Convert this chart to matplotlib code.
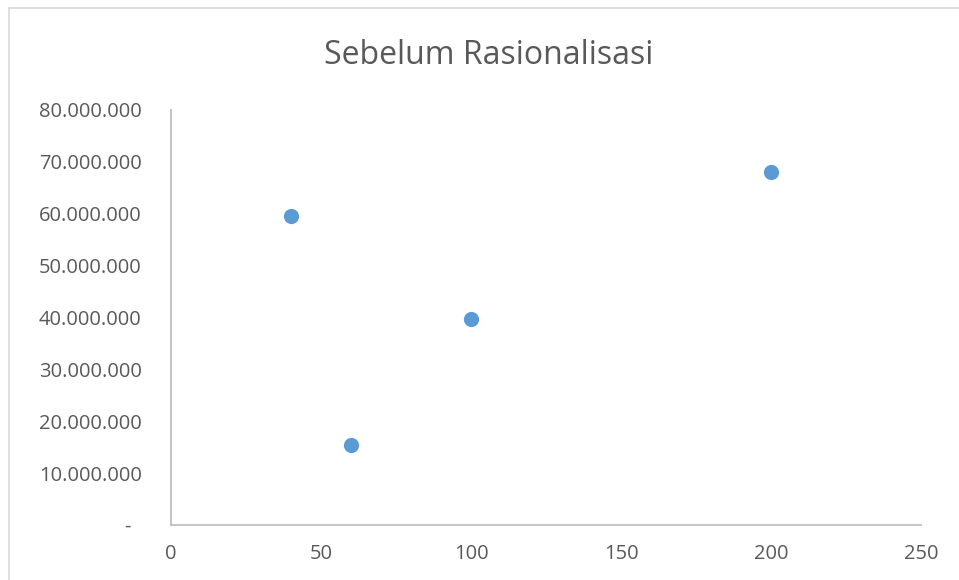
import matplotlib.pyplot as plt
from matplotlib.ticker import FuncFormatter, MultipleLocator
from matplotlib.lines import Line2D

# data
title = "Sebelum Rasionalisasi"
x_vals = [40, 60, 100, 200]
y_vals = [59_600_000, 15_400_000, 39_700_000, 68_000_000]

BLUE = "#5B9BD5"
GREY_TXT = "#595959"
GREY_LINE = "#BFBFBF"

plt.rcParams['font.family'] = ['Open Sans', 'DejaVu Sans']

fig = plt.figure(figsize=(9.59, 5.8), dpi=100)
# chart area border: only top and left edges are inside the picture
top_y = 1 - 8 / 580
left_x = 9 / 959
fig.lines.append(Line2D([left_x, 1], [top_y, top_y], transform=fig.transFigure,
                        color="#D9D9D9", linewidth=1.2))
fig.lines.append(Line2D([left_x, left_x], [0, top_y], transform=fig.transFigure,
                        color="#D9D9D9", linewidth=1.2))

ax = fig.add_axes([171 / 959, 1 - 525 / 580, (921 - 171) / 959, (525 - 110) / 580])
ax.scatter(x_vals, y_vals, s=120, color=BLUE, zorder=3, linewidths=0)

ax.set_xlim(0, 250)
ax.set_ylim(0, 80_000_000)
ax.xaxis.set_major_locator(MultipleLocator(50))
ax.yaxis.set_major_locator(MultipleLocator(10_000_000))


def fmt_y(v, pos):
    if v == 0:
        return "-  "
    return f"{v:,.0f}".replace(",", ".")


ax.yaxis.set_major_formatter(FuncFormatter(fmt_y))

for side in ("top", "right"):
    ax.spines[side].set_visible(False)
for side in ("left", "bottom"):
    ax.spines[side].set_color(GREY_LINE)
    ax.spines[side].set_linewidth(1.3)

ax.tick_params(axis="both", length=0, labelsize=14.5, labelcolor=GREY_TXT)
ax.tick_params(axis="y", pad=21)
ax.tick_params(axis="x", pad=14)

fig.text(489 / 959, 1 - 55 / 580, title, ha="center", va="center",
         fontsize=23, color=GREY_TXT)

fig.savefig("out.png", dpi=100)
